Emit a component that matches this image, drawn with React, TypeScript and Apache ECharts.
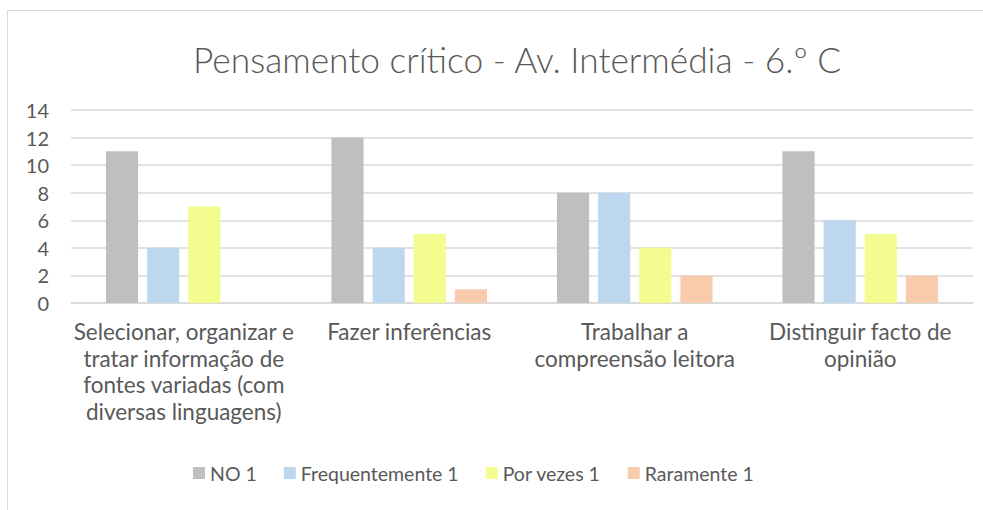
import React, { useEffect, useRef } from "react";
import * as echarts from "echarts";

const categories = [
  "Selecionar, organizar e\ntratar informação de\nfontes variadas (com\ndiversas linguagens)",
  "Fazer inferências",
  "Trabalhar a\ncompreensão leitora",
  "Distinguir facto de\nopinião",
];
const seriesNames = ["NO 1", "Frequentemente 1", "Por vezes 1", "Raramente 1"];
const noValues = [11, 12, 8, 11];
const frequentementeValues = [4, 4, 8, 6];
const porVezesValues = [7, 5, 4, 5];
const raramenteValues = [0, 1, 2, 2];
const colors = ["#bfbfbf", "#bdd7ee", "#f4fb8f", "#f8cbad"];
const yTicks = { min: 0, max: 14, interval: 2 };

export default function App() {
  const ref = useRef<HTMLDivElement>(null);
  useEffect(() => {
    if (!ref.current) return;
    const chart = echarts.init(ref.current, undefined, { renderer: "svg" });
    const values = [noValues, frequentementeValues, porVezesValues, raramenteValues];
    const font = "Lato";
    chart.setOption({
      animation: false,
      backgroundColor: "#ffffff",
      textStyle: { fontFamily: font, color: "#595959" },
      graphic: [
        {
          type: "rect",
          shape: { x: 7.5, y: 10.5, width: 1000, height: 520 },
          style: { fill: "none", stroke: "#d9d9d9", lineWidth: 1 },
          silent: true,
        },
      ],
      title: {
        text: "Pensamento crítico - Av. Intermédia - 6.º C",
        left: 188,
        top: 37,
        textStyle: { fontFamily: font, fontSize: 35.3, fontWeight: 300, color: "#595959" },
      },
      legend: {
        data: seriesNames,
        top: 463,
        left: 193,
        padding: 0,
        itemWidth: 12,
        itemHeight: 12,
        itemGap: 27,
        icon: "rect",
        textStyle: { fontFamily: font, fontSize: 19.5, color: "#595959" },
      },
      grid: { left: 71, right: 10, top: 110, bottom: 207, containLabel: false },
      xAxis: {
        type: "category",
        data: categories,
        axisLine: { lineStyle: { color: "#d9d9d9", width: 1.5 } },
        axisTick: { show: false },
        axisLabel: {
          fontFamily: font,
          fontSize: 22.5,
          color: "#595959",
          lineHeight: 26.7,
          margin: 15,
          interval: 0,
        },
      },
      yAxis: {
        type: "value",
        min: yTicks.min,
        max: yTicks.max,
        interval: yTicks.interval,
        axisLine: { show: false },
        axisTick: { show: false },
        splitLine: { lineStyle: { color: "#d9d9d9", width: 1.5 } },
        axisLabel: { fontFamily: font, fontSize: 20, color: "#595959", margin: 22 },
      },
      series: seriesNames.map((name, i) => ({
        name,
        type: "bar",
        data: values[i],
        barGap: "28%",
        barCategoryGap: "31%",
        itemStyle: { color: colors[i] },
      })),
    });
    return () => chart.dispose();
  }, []);
  return (
    <div
      ref={ref}
      style={{ position: "fixed", left: 0, top: 0, width: 983, height: 510 }}
    />
  );
}
